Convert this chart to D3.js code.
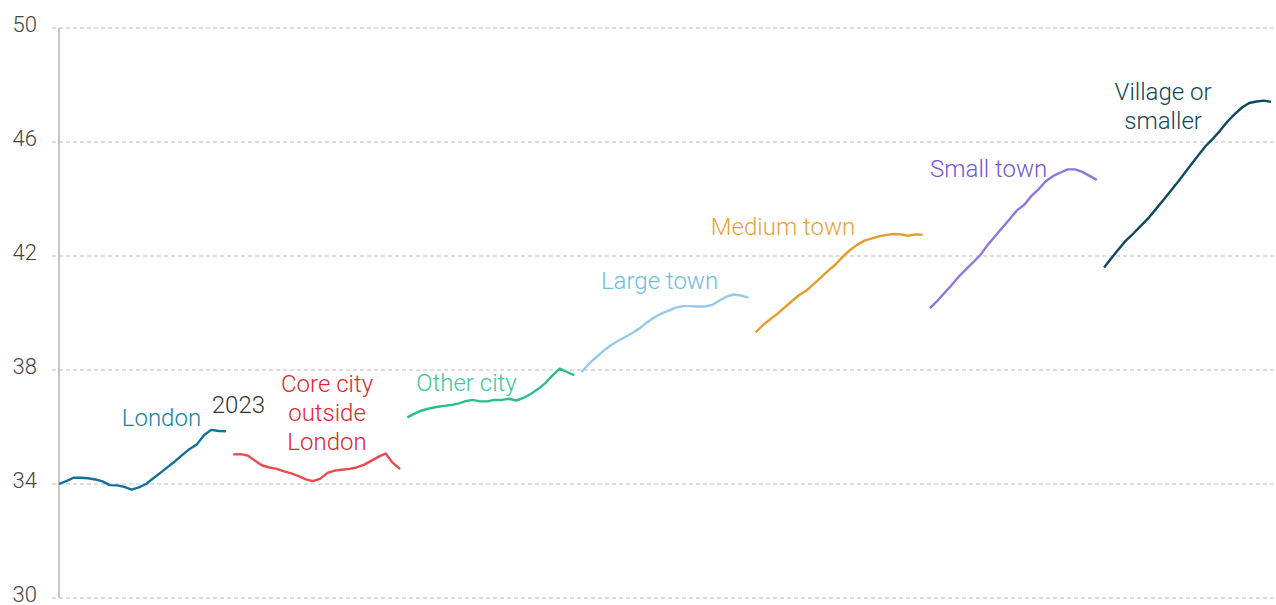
<!DOCTYPE html>
<html>
<head>
<meta charset="utf-8">
<script src="https://cdn.jsdelivr.net/npm/d3@7"></script>
<style>
  body { margin: 0; background: #fff; }
  svg { display: block; font-family: Roboto, "Noto Sans", sans-serif; }
  .grid line { stroke: #bdbdbd; stroke-dasharray: 4,3; stroke-width: 1.2; }
  .tick-label { fill: #444; font-size: 22px; font-weight: 300; }
  .lbl { font-size: 24px; font-weight: 300; text-anchor: middle; }
</style>
</head>
<body>
<svg id="chart" width="1276" height="605"></svg>
<script>
// ---- data (one point per year) ----
var categories = ["London", "Core city outside London", "Other city", "Large town", "Medium town", "Small town", "Village or smaller"];
var yTicks = [30, 34, 38, 42, 46, 50];

var london = [34.0,34.1,34.22,34.22,34.2,34.16,34.09,33.96,33.95,33.9,33.8,33.88,34.0,34.2,34.4,34.6,34.8,35.02,35.23,35.39,35.72,35.9,35.86,35.85];
var coreCity = [35.04,35.05,35.0,34.82,34.65,34.58,34.53,34.44,34.37,34.28,34.16,34.1,34.19,34.39,34.47,34.5,34.53,34.58,34.67,34.81,34.95,35.07,34.74,34.52];
var otherCity = [36.34,36.47,36.58,36.65,36.7,36.74,36.77,36.82,36.91,36.95,36.9,36.9,36.95,36.95,36.99,36.93,37.02,37.16,37.33,37.54,37.81,38.05,37.93,37.82];
var largeTown = [37.93,38.21,38.44,38.67,38.86,39.02,39.16,39.3,39.46,39.67,39.84,39.98,40.08,40.19,40.24,40.24,40.23,40.23,40.28,40.44,40.58,40.65,40.61,40.54];
var mediumTown = [39.32,39.58,39.78,39.98,40.2,40.42,40.63,40.79,41.02,41.25,41.49,41.7,41.98,42.21,42.4,42.54,42.62,42.69,42.74,42.77,42.76,42.71,42.76,42.74];
var smallTown = [40.16,40.42,40.7,40.98,41.28,41.54,41.79,42.05,42.4,42.7,43.0,43.3,43.6,43.8,44.11,44.35,44.63,44.81,44.93,45.04,45.04,44.95,44.81,44.67];
var village = [41.6,41.92,42.24,42.54,42.78,43.04,43.3,43.6,43.91,44.23,44.54,44.88,45.21,45.54,45.86,46.12,46.4,46.72,46.98,47.21,47.37,47.42,47.45,47.41];

var seriesValues = [london, coreCity, otherCity, largeTown, mediumTown, smallTown, village];
var lineColors = ["#11719a", "#ea4a4f", "#2dbd8a", "#93cbe6", "#e29d2e", "#8f77d9", "#0c4a5d"];
var labelColors = ["#1a7ea6", "#e2262f", "#3cc796", "#6dbde2", "#e6a23c", "#7455d6", "#0f4658"];
var labelLines = [["London"], ["Core city", "outside", "London"], ["Other city"], ["Large town"], ["Medium town"], ["Small town"], ["Village or", "smaller"]];
// label anchor in chart terms: [position within segment, value at first baseline]
var labelAt = [[14.12, 36.04], [12.93, 37.23], [8.15, 37.26], [10.75, 40.84], [3.77, 42.74], [8.1, 44.77], [8.13, 47.47]];

var width = 1276, height = 605;
var svg = d3.select("#chart");

var perGroup = 24; // 23 steps + one empty step between segments
var x = d3.scaleLinear().domain([0, perGroup * 6 + 23]).range([59, 1271]);
var y = d3.scaleLinear().domain([30, 50]).range([598, 28]);

// grid
svg.append("g").attr("class", "grid")
    .selectAll("line").data(yTicks).enter().append("line")
    .attr("x1", 52).attr("x2", width)
    .attr("y1", function (d) { return y(d) }).attr("y2", function (d) { return y(d) });

// axis line
svg.append("line")
    .attr("x1", x(0)).attr("x2", x(0))
    .attr("y1", y(50)).attr("y2", y(30))
    .attr("stroke", "#b5b5b5").attr("stroke-width", 1.5);

// tick labels sit a little above their gridline
svg.append("g").selectAll("text").data(yTicks).enter().append("text")
    .attr("class", "tick-label")
    .attr("x", 37).attr("y", function (d) { return y(d) })
    .attr("dy", "0.18em").attr("text-anchor", "end")
    .text(function (d) { return d });

var line = d3.line()
    .x(function (d) { return x(d.i) })
    .y(function (d) { return y(d.v) });

seriesValues.forEach(function (vals, g) {
    var pts = vals.map(function (v, i) { return {i: g * perGroup + i, v: v} });
    svg.append("path")
        .datum(pts)
        .attr("d", line)
        .attr("fill", "none")
        .attr("stroke", lineColors[g])
        .attr("stroke-width", 2.4)
        .attr("stroke-linejoin", "round");

    var la = labelAt[g];
    var t = svg.append("text")
        .attr("class", "lbl")
        .attr("fill", labelColors[g])
        .attr("x", x(g * perGroup + la[0]))
        .attr("y", y(la[1]));
    labelLines[g].forEach(function (s, k) {
        t.append("tspan").attr("x", x(g * perGroup + la[0])).attr("dy", k == 0 ? 0 : 29).text(s);
    });
});

// year marker at end of the London segment
svg.append("text")
    .attr("class", "lbl")
    .attr("fill", "#333")
    .attr("x", x(london.length - 1) + 12.5)
    .attr("y", y(36.49))
    .text("2023");
</script>
</body>
</html>
